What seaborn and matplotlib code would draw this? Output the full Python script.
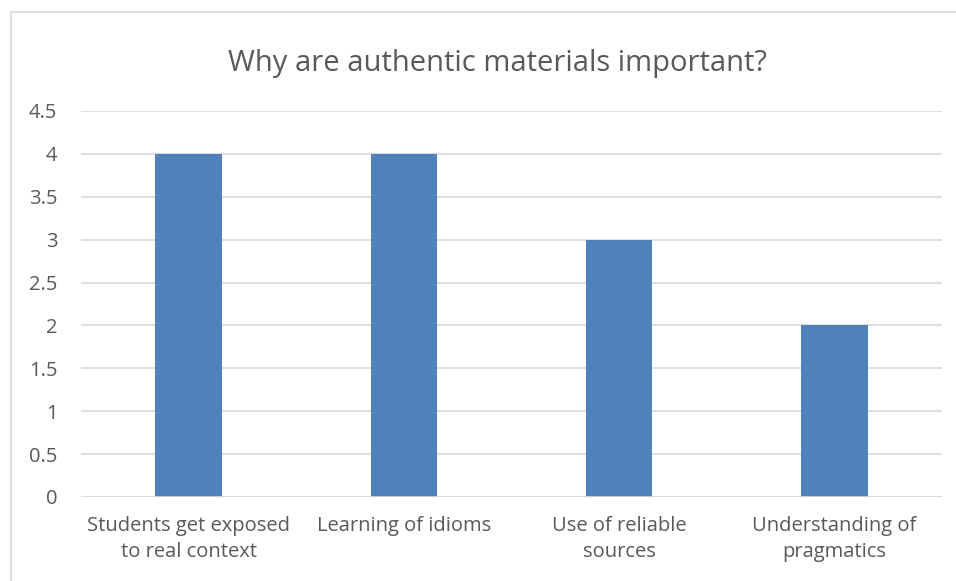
import matplotlib
matplotlib.use("Agg")
import matplotlib.pyplot as plt
import seaborn as sns
import pandas as pd
from matplotlib.patches import Rectangle

categories = ["Students get exposed\nto real context", "Learning of idioms",
              "Use of reliable\nsources", "Understanding of\npragmatics"]
values = [4, 4, 3, 2]
yticks = [0, 0.5, 1, 1.5, 2, 2.5, 3, 3.5, 4, 4.5]
ytick_labels = ["0", "0.5", "1", "1.5", "2", "2.5", "3", "3.5", "4", "4.5"]
title = "Why are authentic materials important?"

sns.set_theme(style="white")
plt.rcParams['font.family'] = ['Open Sans', 'DejaVu Sans']

TXT = "#595959"
GRID = "#d9d9d9"
BAR = "#4f81bd"

fig = plt.figure(figsize=(9.56, 5.81), dpi=100)
fig.patches.append(Rectangle((11/956, -0.1), 1.2, 1 - 12/581 + 0.1,
                             transform=fig.transFigure, fill=False,
                             edgecolor=GRID, linewidth=1.2, zorder=0))
ax = fig.add_axes([81/956, 1 - 497/581, (942 - 81)/956, (497 - 111)/581])

df = pd.DataFrame({"cat": categories, "val": values})
sns.barplot(data=df, x="cat", y="val", color=BAR, width=0.31, ax=ax,
            saturation=1, zorder=3, linewidth=0)

ax.set_ylim(0, 4.5)
ax.set_xlim(-0.5, 3.5)
ax.set_yticks(yticks)
ax.set_yticklabels(ytick_labels)
ax.yaxis.grid(True, color=GRID, linewidth=1.2, zorder=0)
ax.set_axisbelow(True)
for s in ax.spines.values():
    s.set_visible(False)
ax.axhline(0, color=GRID, linewidth=1.2, zorder=4)
ax.set_xlabel("")
ax.set_ylabel("")
ax.tick_params(axis="both", length=0, labelsize=14.5, colors=TXT)
ax.tick_params(axis="y", pad=17)
ax.tick_params(axis="x", pad=14)
for lab in ax.get_xticklabels():
    lab.set_linespacing(1.35)

fig.text(497/956, 1 - 64/581, title, ha="center", va="center",
         fontsize=21, color=TXT)

fig.savefig("out.png", dpi=100)
